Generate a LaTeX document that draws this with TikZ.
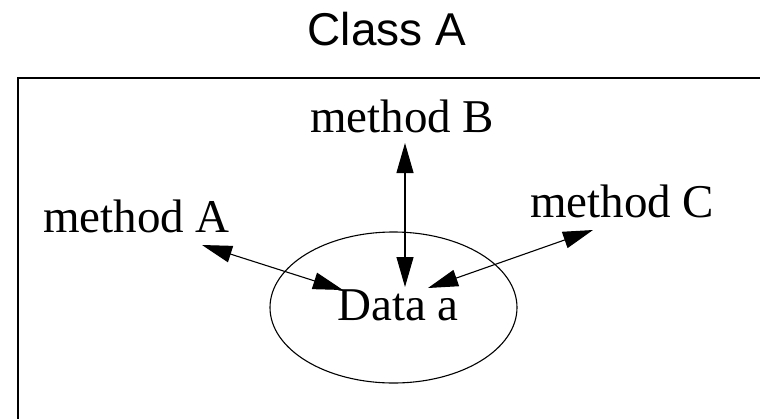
\documentclass[tikz,border=0pt]{standalone}
\usepackage{fontspec}
\setmainfont{Liberation Serif}
\newfontfamily\titlefont{Liberation Sans}
\usetikzlibrary{arrows.meta}
\tikzset{
  lbl/.style={inner sep=0pt, anchor=base west, font=\fontsize{47}{50}\selectfont},
  conn/.style={line width=1.1pt, {Triangle[length=30pt,width=17pt]}-{Triangle[length=30pt,width=17pt]}},
}
\begin{document}
\begin{tikzpicture}[x=1pt,y=-1pt]
\useasboundingbox (0,0) rectangle (760,418);
\fill[white] (0,0) rectangle (760,418);
\begin{scope}
\clip (0,0) rectangle (760,418);
\draw[line width=2pt] (18,78) rectangle (800,470);
\end{scope}
\node[inner sep=0pt, anchor=base, font=\titlefont\fontsize{46}{50}\selectfont] (title) at (387,45) {Class A};
\draw[line width=1.1pt] (393.5,307.5) ellipse [x radius=123.5, y radius=75.5];
\node[lbl] (mB) at (310,132) {method B};
\node[lbl] (mA) at (43,232) {method A};
\node[lbl] (mC) at (530,217) {method C};
\node[lbl] (data) at (337,320) {Data a};
\coordinate (bTop) at (405,143);
\coordinate (bBot) at (405,287);
\coordinate (aOut) at (202,245);
\coordinate (aIn) at (343,290);
\coordinate (cOut) at (593,230);
\coordinate (cIn) at (428,288);
\draw[conn] (bTop) -- (bBot);
\draw[conn] (aOut) -- (aIn);
\draw[conn] (cOut) -- (cIn);
\end{tikzpicture}
\end{document}
